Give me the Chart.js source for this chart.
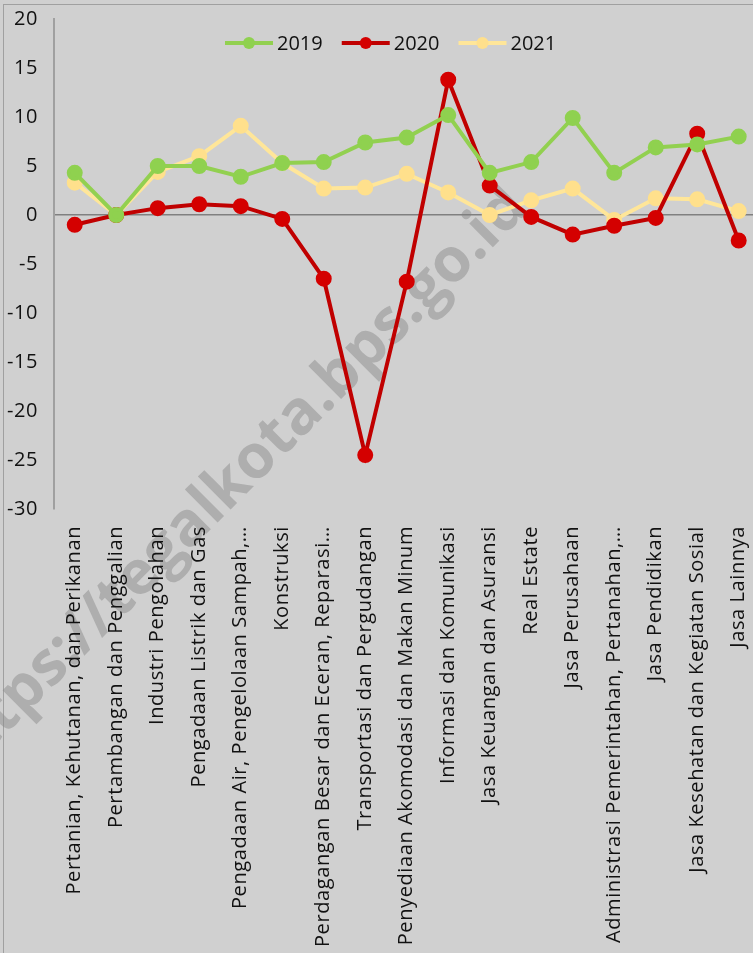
<!DOCTYPE html>
<html>
<head>
<meta charset="utf-8">
<script src="https://cdn.jsdelivr.net/npm/chart.js@4"></script>
<style>
  html, body { margin: 0; padding: 0; background: #d0d0d0; overflow: hidden; }
  #wrap { position: relative; width: 772px; height: 953px; }
  #frame { position: absolute; left: 3px; top: 4px; right: 0; bottom: 0; border-top: 1px solid #a0a0a0; border-left: 1px solid #a0a0a0; }
  canvas { position: absolute; left: 0; top: 0; }
</style>
</head>
<body>
<div id="wrap">
  <div id="frame"></div>
  <canvas id="myChartLinha" width="772" height="953"></canvas>
</div>
<script>
// Kategori lapangan usaha
const categories = [
    'Pertanian, Kehutanan, dan Perikanan',
    'Pertambangan dan Penggalian',
    'Industri Pengolahan',
    'Pengadaan Listrik dan Gas',
    'Pengadaan Air, Pengelolaan Sampah,…',
    'Konstruksi',
    'Perdagangan Besar dan Eceran, Reparasi…',
    'Transportasi dan Pergudangan',
    'Penyediaan Akomodasi dan Makan Minum',
    'Informasi dan Komunikasi',
    'Jasa Keuangan dan Asuransi',
    'Real Estate',
    'Jasa Perusahaan',
    'Administrasi Pemerintahan, Pertanahan,…',
    'Jasa Pendidikan',
    'Jasa Kesehatan dan Kegiatan Sosial',
    'Jasa Lainnya'
];

const years = ['2019', '2020', '2021'];

// Laju pertumbuhan (%)
const values2019 = [4.3, 0.0, 5.0, 5.0, 3.9, 5.3, 5.4, 7.4, 7.9, 10.2, 4.3, 5.4, 9.9, 4.3, 6.9, 7.2, 8.0];
const values2020 = [-1.0, 0.0, 0.7, 1.1, 0.9, -0.4, -6.5, -24.5, -6.8, 13.8, 3.0, -0.2, -2.0, -1.1, -0.3, 8.3, -2.6];
const values2021 = [3.3, 0.0, 4.4, 6.0, 9.1, 5.3, 2.7, 2.8, 4.2, 2.3, 0.0, 1.5, 2.7, -0.5, 1.7, 1.6, 0.4];

const yTicks = [20, 15, 10, 5, 0, -5, -10, -15, -20, -25, -30];

const colors = ['#92d050', '#c00000', '#ffe699'];
const pointColors = ['#8fd14f', '#d40000', '#ffe08c'];

const allValues = [values2019, values2020, values2021];

// watermark (di belakang sumbu dan garis) + jarak huruf sedikit renggang
const watermark = {
    id: 'watermark',
    beforeDraw(chart) {
        const g = chart.ctx;
        g.save();
        g.translate(530, 210);
        g.rotate(-Math.PI / 4);
        g.font = 'bold 61px "Open Sans"';
        g.fillStyle = 'rgba(140, 140, 140, 0.5)';
        g.textAlign = 'right';
        g.textBaseline = 'alphabetic';
        g.fillText('https://tegalkota.bps.go.id', 0, 0);
        g.restore();
        g.letterSpacing = '0.6px';
    }
};

// legenda di dalam area grafik (garis + titik)
const legendaDalam = {
    id: 'legendaDalam',
    afterDraw(chart) {
        const g = chart.ctx;
        const y = 43;
        let x = 225;
        g.save();
        g.letterSpacing = '0px';
        g.font = '20px "Open Sans"';
        g.textBaseline = 'middle';
        chart.data.datasets.forEach((ds, i) => {
            g.strokeStyle = colors[i];
            g.lineWidth = 4;
            g.beginPath();
            g.moveTo(x, y);
            g.lineTo(x + 48, y);
            g.stroke();
            g.fillStyle = pointColors[i];
            g.beginPath();
            g.arc(x + 24, y, 6, 0, Math.PI * 2);
            g.fill();
            g.fillStyle = '#111';
            g.fillText(ds.label, x + 52, y + 1);
            x += 52 + g.measureText(ds.label).width + 19;
        });
        g.restore();
    }
};

const ctxLinha = document.getElementById('myChartLinha');

new Chart(ctxLinha, {
    type: 'line',
    data: {
        labels: categories,
        datasets: years.map((y, i) => ({
            label: y,
            data: allValues[i],
            borderColor: colors[i],
            backgroundColor: pointColors[i],
            pointBackgroundColor: pointColors[i],
            pointBorderColor: pointColors[i],
            borderWidth: 4,
            pointRadius: 6,
            pointHoverRadius: 6,
            tension: 0
        }))
    },
    plugins: [watermark, legendaDalam],
    options: {
        responsive: false,
        animation: false,
        layout: {
            padding: { top: 19, left: 3, right: 0, bottom: 0 }
        },
        plugins: {
            legend: { display: false },
            tooltip: { enabled: false }
        },
        scales: {
            x: {
                offset: true,
                grid: { display: false },
                border: { display: false },
                ticks: {
                    color: '#111',
                    autoSkip: false,
                    minRotation: 90,
                    maxRotation: 90,
                    padding: 9,
                    font: { family: 'Open Sans', size: 20 }
                },
                afterFit(scale) {
                    scale.height = 444;
                    scale.paddingTop = 0;
                }
            },
            y: {
                min: -30,
                max: 20,
                afterBuildTicks(scale) {
                    scale.ticks = yTicks.map(v => ({ value: v }));
                },
                grid: {
                    drawTicks: false,
                    color: c => (c.tick && c.tick.value === 0 ? '#808080' : 'rgba(0,0,0,0)'),
                    lineWidth: 1.5
                },
                border: { color: '#a0a0a0', width: 2 },
                ticks: {
                    color: '#111',
                    padding: 16,
                    font: { family: 'Open Sans', size: 20 }
                },
                afterFit(scale) {
                    scale.width = 51;
                    scale.paddingTop = 0;
                }
            }
        }
    }
});
</script>
</body>
</html>
